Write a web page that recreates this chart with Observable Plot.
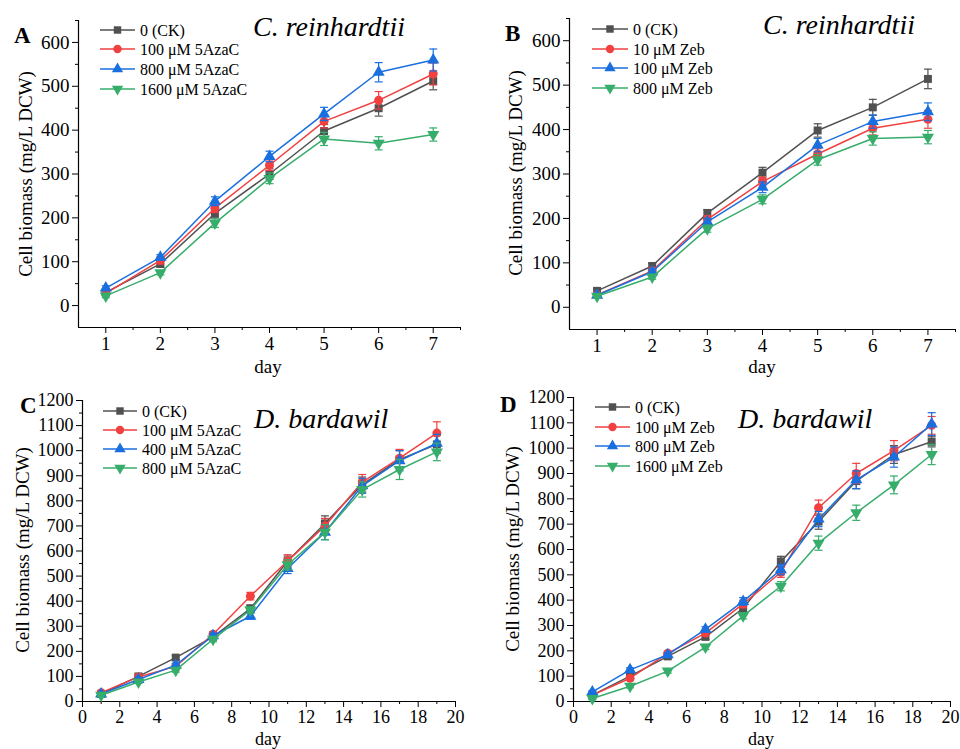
<!DOCTYPE html>
<html><head><meta charset="utf-8">
<script src="https://cdn.jsdelivr.net/npm/d3@7"></script>
<script src="https://cdn.jsdelivr.net/npm/@observablehq/plot@0.6"></script>
<style>
body{margin:0;background:#fff;}
#root{position:relative;width:960px;height:749px;overflow:hidden;background:#fff;font-family:"Liberation Serif","Times New Roman",serif;}
.panel{position:absolute;}
.panel svg{overflow:visible;font-family:"Liberation Serif","Times New Roman",serif !important;}
.panel svg text{font-family:"Liberation Serif","Times New Roman",serif !important;}
</style></head><body><div id="root"></div>
<script>
const FONT = "Liberation Serif, Times New Roman, serif";
const colors = ["#515151","#F14040","#1A6FDF","#37AD6B"];

const daysAB = [1,2,3,4,5,6,7];
const daysCD = [1,3,5,7,9,11,13,15,17,19];

const xTicksAB = [1,2,3,4,5,6,7];
const xMinorAB = [1.5,2.5,3.5,4.5,5.5,6.5,7.5];
const yTicksAB = [0,100,200,300,400,500,600];
const yMinorAB = [50,150,250,350,450,550,650];
const xTicksCD = [0,2,4,6,8,10,12,14,16,18,20];
const xMinorCD = [1,3,5,7,9,11,13,15,17,19];
const yTicksCD = [0,100,200,300,400,500,600,700,800,900,1000,1100,1200];
const yMinorCD = [50,150,250,350,450,550,650,750,850,950,1050,1150];

const legendA = ["0 (CK)","100 μM 5AzaC","800 μM 5AzaC","1600 μM 5AzaC"];
const legendB = ["0 (CK)","10 μM Zeb","100 μM Zeb","800 μM Zeb"];
const legendC = ["0 (CK)","100 μM 5AzaC","400 μM 5AzaC","800 μM 5AzaC"];
const legendD = ["0 (CK)","100 μM Zeb","800 μM Zeb","1600 μM Zeb"];

const valuesA = [
  [30,95,210,300,398,450,512],
  [28,103,222,320,420,468,528],
  [40,110,238,340,437,532,560],
  [22,75,188,290,380,370,390]];
const errorsA = [
  [5,8,10,12,15,18,20],
  [5,8,10,12,15,20,25],
  [5,6,10,12,15,22,25],
  [4,5,10,12,15,15,15]];

const valuesB = [
  [37,93,212,303,398,450,514],
  [28,82,198,283,345,403,423],
  [27,80,192,270,365,418,440],
  [25,68,177,243,332,380,383]];
const errorsB = [
  [5,6,8,12,15,18,22],
  [5,6,8,10,12,15,20],
  [5,6,8,12,15,15,20],
  [4,5,8,10,12,15,15]];

const valuesC = [
  [30,100,175,258,370,560,710,865,965,1025],
  [35,98,140,268,420,560,700,875,970,1070],
  [30,88,145,262,340,530,675,860,960,1030],
  [25,78,125,248,365,545,675,845,925,995]];
const errorsC = [
  [5,8,8,10,15,20,30,30,35,35],
  [5,8,8,10,15,25,30,30,35,45],
  [5,8,8,10,12,20,30,30,40,35],
  [5,6,8,10,12,20,30,30,40,35]];

const valuesD = [
  [25,100,178,255,368,553,710,870,975,1025],
  [25,92,190,270,385,510,765,900,990,1090],
  [38,125,185,285,395,520,720,875,965,1095],
  [12,60,120,215,338,455,625,745,855,975]];
const errorsD = [
  [5,8,8,10,15,20,30,30,35,20],
  [5,8,8,10,15,20,30,40,40,35],
  [5,8,8,10,15,20,30,35,40,45],
  [5,6,8,10,12,18,28,30,35,40]];

const sqrt3 = Math.sqrt(3);
const triangleDown = {draw(ctx, size){const y = -Math.sqrt(size/(sqrt3*3)); ctx.moveTo(0,-y*2); ctx.lineTo(-sqrt3*y, y); ctx.lineTo(sqrt3*y, y); ctx.closePath();}};
const capSymbol = {draw(ctx, size){const h = Math.sqrt(size/Math.PI); ctx.moveTo(-h,0); ctx.lineTo(h,0);}};
const symbols = [d3.symbolSquare, d3.symbolCircle, d3.symbolTriangle, triangleDown];

function panel(cfg){
  const rows = [];
  cfg.values.forEach((vals, s) => vals.forEach((v, i) => rows.push({s, day: cfg.days[i], v, e: cfg.errors[s][i]})));
  const fmt = d => String(d);
  const marks = [
    Plot.axisX({ticks: cfg.xMinor, tickSize: 3, tickFormat: () => "", label: null}),
    Plot.axisY({ticks: cfg.yMinor, tickSize: 3, tickFormat: () => "", label: null}),
    Plot.axisX({ticks: cfg.xTicks, tickSize: 6, tickPadding: 3, tickFormat: fmt, label: null}),
    Plot.axisY({ticks: cfg.yTicks, tickSize: 6, tickPadding: 3, tickFormat: fmt, label: null}),
    Plot.ruleX([cfg.xDomain[0]], {stroke: "#000", strokeWidth: 1.2}),
    Plot.ruleY([cfg.yDomain[0]], {stroke: "#000", strokeWidth: 1.2})
  ];
  for (let s = 0; s < 4; s++) {
    const d = rows.filter(r => r.s === s);
    marks.push(
      Plot.line(d, {x: "day", y: "v", stroke: colors[s], strokeWidth: 1.5}),
      Plot.ruleX(d, {x: "day", y1: r => r.v - r.e, y2: r => r.v + r.e, stroke: colors[s], strokeWidth: 1.2}),
      Plot.dot(d, {x: "day", y: r => r.v + r.e, symbol: capSymbol, r: 4, stroke: colors[s], strokeWidth: 1.2, fill: "none"}),
      Plot.dot(d, {x: "day", y: r => r.v - r.e, symbol: capSymbol, r: 4, stroke: colors[s], strokeWidth: 1.2, fill: "none"}),
      Plot.dot(d, {x: "day", y: "v", symbol: symbols[s], r: 4.5, fill: colors[s], stroke: "none"})
    );
  }
  const svg = Plot.plot({
    width: 480, height: cfg.height,
    marginTop: cfg.m[0], marginRight: cfg.m[1], marginBottom: cfg.m[2], marginLeft: cfg.m[3],
    x: {domain: cfg.xDomain, label: null},
    y: {domain: cfg.yDomain, label: null},
    style: {fontFamily: FONT, fontSize: cfg.fontSize + "px", background: "transparent", color: "#000"},
    marks
  });
  const g = d3.select(svg).attr("font-family", FONT);
  const ox = cfg.left, oy = cfg.top;
  const txt = () => g.append("text").attr("font-family", FONT).attr("text-anchor", "start").attr("fill", "#000");
  const L = cfg.legend;
  cfg.labels.forEach((lab, s) => {
    const y = L.rows[s] - oy;
    g.append("line").attr("x1", L.x1 - ox).attr("x2", L.x2 - ox).attr("y1", y).attr("y2", y)
      .attr("stroke", colors[s]).attr("stroke-width", 1.5);
    g.append("path").attr("d", d3.symbol(symbols[s], Math.PI * 4.2 * 4.2)())
      .attr("transform", `translate(${(L.x1 + L.x2) / 2 - ox},${y})`).attr("fill", colors[s]);
    txt().attr("x", L.tx - ox).attr("y", y).attr("dy", "0.35em").attr("font-size", 16).text(lab);
  });
  txt().attr("x", cfg.title.x - ox).attr("y", cfg.title.y - oy)
    .attr("font-size", 28).attr("font-style", "italic").text(cfg.title.text);
  txt().attr("x", cfg.letter.x - ox).attr("y", cfg.letter.y - oy)
    .attr("font-size", 23).attr("font-weight", "bold").text(cfg.letter.text);
  txt().attr("transform", `translate(${cfg.ylab.x - ox},${cfg.ylab.y - oy}) rotate(-90)`)
    .attr("text-anchor", "middle").attr("font-size", 19).text("Cell biomass (mg/L DCW)");
  txt().attr("x", cfg.xlab.x - ox).attr("y", cfg.xlab.y - oy)
    .attr("text-anchor", "middle").attr("font-size", cfg.xlab.size).text("day");
  const div = document.createElement("div");
  div.className = "panel";
  div.style.left = cfg.left + "px";
  div.style.top = cfg.top + "px";
  div.appendChild(svg);
  document.getElementById("root").appendChild(div);
}

panel({left: 0, top: 0, height: 375, m: [20, 20, 48, 78], fontSize: 19,
  xDomain: [0.5, 7.5], yDomain: [-50, 650], xTicks: xTicksAB, xMinor: xMinorAB, yTicks: yTicksAB, yMinor: yMinorAB,
  days: daysAB, values: valuesA, errors: errorsA, labels: legendA,
  legend: {x1: 100, x2: 135, tx: 140, rows: [30, 49, 69, 89]},
  title: {x: 253, y: 36, text: "C. reinhardtii"}, letter: {x: 14, y: 43, text: "A"},
  ylab: {x: 32, y: 174}, xlab: {x: 268, y: 373, size: 19}});

panel({left: 480, top: 0, height: 375, m: [18, 5, 46, 89], fontSize: 19,
  xDomain: [0.5, 7.5], yDomain: [-50, 650], xTicks: xTicksAB, xMinor: xMinorAB, yTicks: yTicksAB, yMinor: yMinorAB,
  days: daysAB, values: valuesB, errors: errorsB, labels: legendB,
  legend: {x1: 592, x2: 628, tx: 633, rows: [29, 49, 68, 88]},
  title: {x: 763, y: 34, text: "C. reinhardtii"}, letter: {x: 505, y: 41, text: "B"},
  ylab: {x: 522, y: 173}, xlab: {x: 762, y: 373, size: 19}});

panel({left: 0, top: 375, height: 374, m: [25, 25, 48, 82], fontSize: 18,
  xDomain: [0, 20], yDomain: [0, 1200], xTicks: xTicksCD, xMinor: xMinorCD, yTicks: yTicksCD, yMinor: yMinorCD,
  days: daysCD, values: valuesC, errors: errorsC, labels: legendC,
  legend: {x1: 103, x2: 137, tx: 142, rows: [411, 430, 449, 468]},
  title: {x: 254, y: 428, text: "D. bardawil"}, letter: {x: 20, y: 413, text: "C"},
  ylab: {x: 29, y: 550}, xlab: {x: 268, y: 745, size: 18}});

panel({left: 480, top: 375, height: 374, m: [22, 10, 48, 93], fontSize: 18,
  xDomain: [0, 20], yDomain: [0, 1200], xTicks: xTicksCD, xMinor: xMinorCD, yTicks: yTicksCD, yMinor: yMinorCD,
  days: daysCD, values: valuesD, errors: errorsD, labels: legendD,
  legend: {x1: 595, x2: 630, tx: 635, rows: [407, 427, 446, 466]},
  title: {x: 738, y: 428, text: "D. bardawil"}, letter: {x: 500, y: 412, text: "D"},
  ylab: {x: 519, y: 549}, xlab: {x: 761, y: 745, size: 18}});
</script></body></html>
